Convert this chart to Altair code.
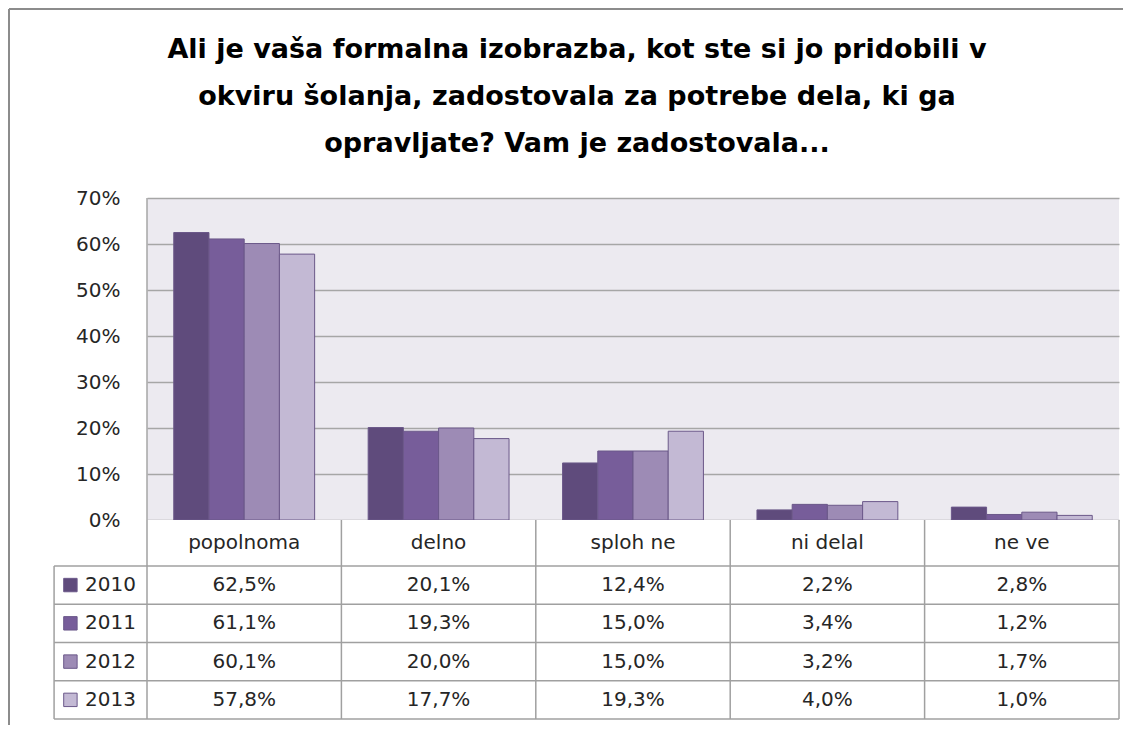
import altair as alt
import pandas as pd

# ---------------- data ----------------
categories = ["popolnoma", "delno", "sploh ne", "ni delal", "ne ve"]
years = ["2010", "2011", "2012", "2013"]
v2010 = [62.5, 20.1, 12.4, 2.2, 2.8]
v2011 = [61.1, 19.3, 15.0, 3.4, 1.2]
v2012 = [60.1, 20.0, 15.0, 3.2, 1.7]
v2013 = [57.8, 17.7, 19.3, 4.0, 1.0]
y_ticks = [0, 10, 20, 30, 40, 50, 60, 70]
title_lines = [
    "Ali je vaša formalna izobrazba, kot ste si jo pridobili v",
    "okviru šolanja, zadostovala za potrebe dela, ki ga",
    "opravljate? Vam je zadostovala...",
]
colors = ["#5F4B7C", "#775D9A", "#9D8BB5", "#C3B9D4"]

series = {"2010": v2010, "2011": v2011, "2012": v2012, "2013": v2013}

# ---------------- layout constants ----------------
W, H = 972, 322           # plot area
TH = 199                  # table height
FONT = "DejaVu Sans"
FS = 20
TXT = "#262626"
LINE = "#A0A0A0"
FRAME = "#8C8C8C"
HEADER_ROWS = 1.2         # header row height in row units
LEG_W = 0.478             # legend column width in column units

rows = []
for y in years:
    for c, v in zip(categories, series[y]):
        rows.append({"category": c, "year": y, "value": v})
df = pd.DataFrame(rows)

one = pd.DataFrame({"a": [0]})

# ---------------- top chart: bars ----------------
bars = alt.Chart(df).mark_bar(stroke="#6B5889", strokeWidth=1).encode(
    x=alt.X("category:N", sort=categories,
            scale=alt.Scale(paddingInner=0, paddingOuter=0), axis=None),
    xOffset=alt.XOffset("year:N", sort=years,
                        scale=alt.Scale(paddingInner=0, paddingOuter=0.76)),
    y=alt.Y("value:Q", scale=alt.Scale(domain=[0, 70]),
            axis=alt.Axis(values=y_ticks, labelExpr="datum.value + '%'",
                          grid=True, gridColor="#A6A6A6", gridWidth=1.5,
                          domain=False, ticks=False, labelPadding=27,
                          labelFont=FONT, labelFontSize=FS, labelColor=TXT,
                          title=None)),
    color=alt.Color("year:N", sort=years,
                    scale=alt.Scale(domain=years, range=colors), legend=None),
)

plot_left = alt.Chart(one).mark_rule(color="#A6A6A6", strokeWidth=1.5).encode(
    x=alt.value(0), y=alt.value(0), y2=alt.value(H))

frame_top = alt.Chart(one).mark_rule(color=FRAME, strokeWidth=2).encode(
    x=alt.value(-138), x2=alt.value(976), y=alt.value(-189))
frame_left_top = alt.Chart(one).mark_rule(color=FRAME, strokeWidth=2).encode(
    x=alt.value(-138), y=alt.value(-189), y2=alt.value(H))

top = alt.layer(frame_top, frame_left_top, bars, plot_left).properties(
    width=W, height=H,
    view=alt.ViewBackground(fill="#ECEAF0", stroke=None))

# ---------------- bottom chart: data table ----------------
n = len(categories)
row_bounds = [HEADER_ROWS + i for i in range(len(years) + 1)]
hlines = pd.DataFrame({"x": [-LEG_W] * len(row_bounds),
                       "x2": [n] * len(row_bounds),
                       "y": row_bounds})
vlines = pd.DataFrame({"x": list(range(n + 1)) + [-LEG_W],
                       "y": [0] * (n + 1) + [HEADER_ROWS],
                       "y2": [row_bounds[-1]] * (n + 2)})

header = pd.DataFrame({"x": [i + 0.5 for i in range(n)],
                       "y": [HEADER_ROWS / 2] * n,
                       "label": categories})

cells = []
for j, y in enumerate(years):
    for i, v in enumerate(series[y]):
        cells.append({"x": i + 0.5, "y": HEADER_ROWS + j + 0.5,
                      "label": f"{v:.1f}".replace(".", ",") + "%"})
cells = pd.DataFrame(cells)

legend = pd.DataFrame({"year": years,
                       "y": [HEADER_ROWS + j + 0.5 for j in range(len(years))],
                       "xs": [-0.394] * len(years),
                       "xt": [-0.319] * len(years)})

xs = alt.Scale(domain=[0, n])
ys = alt.Scale(domain=[0, row_bounds[-1]], reverse=True)

h_rules = alt.Chart(hlines).mark_rule(color=LINE, strokeWidth=1.5).encode(
    x=alt.X("x:Q", scale=xs, axis=None), x2="x2:Q",
    y=alt.Y("y:Q", scale=ys, axis=None))
v_rules = alt.Chart(vlines).mark_rule(color=LINE, strokeWidth=1.5).encode(
    x=alt.X("x:Q", scale=xs, axis=None),
    y=alt.Y("y:Q", scale=ys, axis=None), y2="y2:Q")

header_txt = alt.Chart(header).mark_text(font=FONT, fontSize=FS, color=TXT,
                                         baseline="middle").encode(
    x=alt.X("x:Q", scale=xs, axis=None),
    y=alt.Y("y:Q", scale=ys, axis=None), text="label:N")
cell_txt = alt.Chart(cells).mark_text(font=FONT, fontSize=FS, color=TXT,
                                      baseline="middle").encode(
    x=alt.X("x:Q", scale=xs, axis=None),
    y=alt.Y("y:Q", scale=ys, axis=None), text="label:N")

leg_sq = alt.Chart(legend).mark_square(size=180, opacity=1,
                                       stroke="#6B5889", strokeWidth=1).encode(
    x=alt.X("xs:Q", scale=xs, axis=None),
    y=alt.Y("y:Q", scale=ys, axis=None),
    fill=alt.Fill("year:N", sort=years,
                  scale=alt.Scale(domain=years, range=colors), legend=None))
leg_txt = alt.Chart(legend).mark_text(font=FONT, fontSize=FS, color=TXT,
                                      align="left", baseline="middle").encode(
    x=alt.X("xt:Q", scale=xs, axis=None),
    y=alt.Y("y:Q", scale=ys, axis=None), text="year:N")

frame_left_bot = alt.Chart(one).mark_rule(color=FRAME, strokeWidth=2).encode(
    x=alt.value(-138), y=alt.value(0), y2=alt.value(205))

bottom = alt.layer(frame_left_bot, h_rules, v_rules, header_txt, cell_txt,
                   leg_sq, leg_txt).properties(
    width=W, height=TH,
    view=alt.ViewBackground(fill="#FFFFFF", stroke=None))

chart = alt.vconcat(top, bottom, spacing=0, padding=0, bounds="flush",
                    title=alt.Title(title_lines, font=FONT, fontSize=27,
                                    fontWeight="bold", lineHeight=47,
                                    color="#000000", anchor="middle",
                                    offset=-150, dx=11)
                    ).configure_view(stroke=None)

chart.save("out.html", embed_options={"renderer": "svg", "actions": False})
